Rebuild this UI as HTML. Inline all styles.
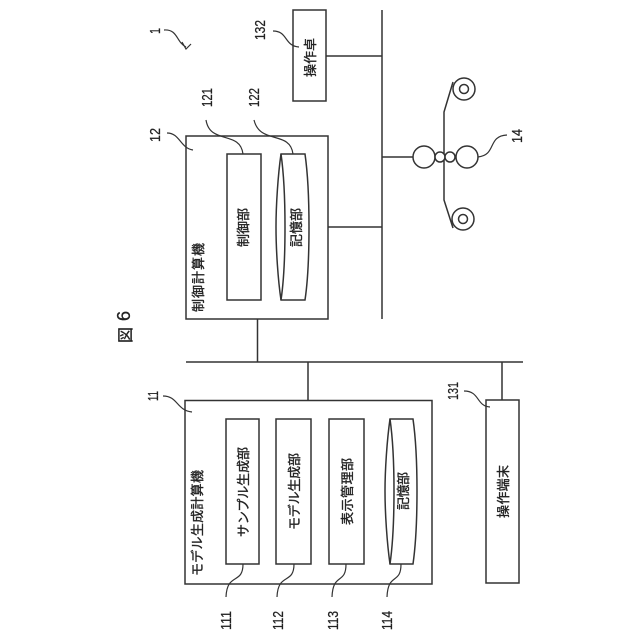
<!DOCTYPE html>
<html><head><meta charset="utf-8"><style>
html,body{margin:0;padding:0;background:#fff}
svg{display:block}
text{font-family:"Liberation Sans","Noto Sans CJK JP",sans-serif;fill:#222}
.j{font-size:13px;stroke:#222;stroke-width:.35}
.n{font-size:15px;stroke:#222;stroke-width:.25}
.s{fill:#fff;stroke:#333;stroke-width:1.5}
.l{fill:none;stroke:#333;stroke-width:1.5}
.t{fill:none;stroke:#333;stroke-width:1.2}
</style></head><body>
<svg width="640" height="640" viewBox="0 0 640 640" xmlns="http://www.w3.org/2000/svg">
<g style="filter:blur(.3px)">
<!-- buses -->
<path class="l" d="M382 10V319M186 362H523M257.500 319V362M308 362V400M502 362V400M326 56H382M328 227H382M382 157H413"/>
<!-- boxes -->
<rect class="s" x="186" y="136" width="142" height="183"/>
<rect class="s" x="227" y="154" width="34" height="146"/>
<rect class="s" x="293" y="10" width="33" height="91"/>
<rect class="s" x="185" y="400.500" width="247" height="183.500"/>
<rect class="s" x="226" y="419" width="33" height="145"/>
<rect class="s" x="276" y="419" width="35" height="145"/>
<rect class="s" x="329" y="419" width="35" height="145"/>
<rect class="s" x="486" y="400" width="33" height="183"/>
<!-- cylinders -->
<path class="s" d="M281 154H305C308 175 309 205 309 227C309 250 308 280 305 300H281C278 280 276 250 276 227C276 205 278 175 281 154Z"/>
<path class="l" d="M281 154C284 175 285 205 285 227C285 250 284 280 281 300"/>
<path class="s" d="M390 419H413C416 440 417 470 417 491C417 513 416 543 413 564H390C387 543 385 513 385 491C385 470 387 440 390 419Z"/>
<path class="l" d="M390 419C393 440 394 470 394 491C394 513 393 543 390 564"/>
<!-- rollers -->
<path class="l" d="M453 82L444 112V200L453 228"/>
<circle class="s" cx="424" cy="157" r="11"/>
<circle class="s" cx="467" cy="157" r="11"/>
<circle class="s" cx="440" cy="157" r="5"/>
<circle class="s" cx="450" cy="157" r="5"/>
<circle class="s" cx="464" cy="89" r="11"/>
<circle class="s" cx="464" cy="89" r="4.500"/>
<circle class="s" cx="463" cy="219" r="11"/>
<circle class="s" cx="463" cy="219" r="4.500"/>
<!-- leaders -->
<path class="t" d="M478 157C497 155 487 136 507 135"/>
<path class="t" d="M164 30C178 29 176 42 186 47M182 42L186 49L191 44"/>
<path class="t" d="M167 133C180 133 180 148 193 150"/>
<path class="t" d="M206 120C210 145 240 130 243 154"/>
<path class="t" d="M254 120C260 145 290 130 293 154"/>
<path class="t" d="M273 31C288 31 284 46 299 47"/>
<path class="t" d="M163 396C178 396 176 410 192 412"/>
<path class="t" d="M243 564C243 585 227 572 226 597"/>
<path class="t" d="M294 564C294 585 278 572 277 597"/>
<path class="t" d="M346 564C346 585 333 572 332 597"/>
<path class="t" d="M401 564C401 585 388 572 387 597"/>
<path class="t" d="M464 391C480 391 476 406 490 407"/>
<!-- Japanese labels -->
<text class="j" transform="translate(203,312) rotate(-90)" textLength="69">制御計算機</text>
<text class="j" transform="translate(248,247) rotate(-90)" textLength="39">制御部</text>
<text class="j" transform="translate(301,247) rotate(-90)" textLength="39">記憶部</text>
<text class="j" transform="translate(315,77) rotate(-90)" textLength="39">操作卓</text>
<text class="j" transform="translate(202,576) rotate(-90)" textLength="106">モデル生成計算機</text>
<text class="j" transform="translate(248,537) rotate(-90)" textLength="90">サンプル生成部</text>
<text class="j" transform="translate(299,530) rotate(-90)" textLength="77">モデル生成部</text>
<text class="j" transform="translate(352,525) rotate(-90)" textLength="67">表示管理部</text>
<text class="j" transform="translate(408,510) rotate(-90)" textLength="38">記憶部</text>
<text class="j" transform="translate(508,518) rotate(-90)" textLength="53">操作端末</text>
<text transform="translate(131,343) rotate(-90)" style="font-size:16px;stroke:#222;stroke-width:.3">図</text>
<text transform="translate(130,321) rotate(-90)" style="font-size:18px;stroke:#222;stroke-width:.3">6</text>
<!-- numerals -->
<text class="n" transform="translate(160,34) rotate(-90)" textLength="6" lengthAdjust="spacingAndGlyphs">1</text>
<text class="n" transform="translate(160,142) rotate(-90)" textLength="14" lengthAdjust="spacingAndGlyphs">12</text>
<text class="n" transform="translate(212,107) rotate(-90)" textLength="19" lengthAdjust="spacingAndGlyphs">121</text>
<text class="n" transform="translate(259,107) rotate(-90)" textLength="19" lengthAdjust="spacingAndGlyphs">122</text>
<text class="n" transform="translate(265,40) rotate(-90)" textLength="20" lengthAdjust="spacingAndGlyphs">132</text>
<text class="n" transform="translate(158,401) rotate(-90)" textLength="10" lengthAdjust="spacingAndGlyphs">11</text>
<text class="n" transform="translate(231,630) rotate(-90)" textLength="19" lengthAdjust="spacingAndGlyphs">111</text>
<text class="n" transform="translate(283,630) rotate(-90)" textLength="19" lengthAdjust="spacingAndGlyphs">112</text>
<text class="n" transform="translate(338,630) rotate(-90)" textLength="19" lengthAdjust="spacingAndGlyphs">113</text>
<text class="n" transform="translate(392,630) rotate(-90)" textLength="19" lengthAdjust="spacingAndGlyphs">114</text>
<text class="n" transform="translate(458,400) rotate(-90)" textLength="18" lengthAdjust="spacingAndGlyphs">131</text>
<text class="n" transform="translate(522,143) rotate(-90)" textLength="14" lengthAdjust="spacingAndGlyphs">14</text>
</g>
</svg>
</body></html>
